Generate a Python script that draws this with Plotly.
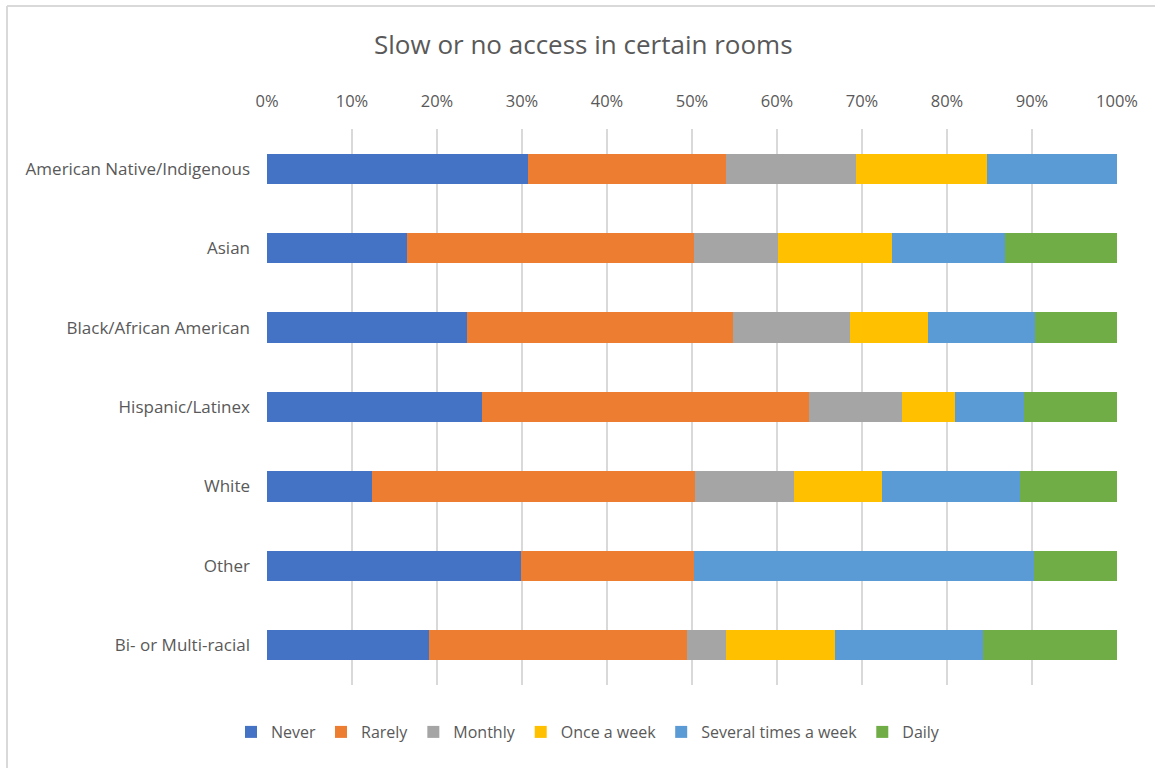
import plotly.graph_objects as go

categories = ["American Native/Indigenous", "Asian", "Black/African American",
              "Hispanic/Latinex", "White", "Other", "Bi- or Multi-racial"]
series_names = ["Never", "Rarely", "Monthly", "Once a week", "Several times a week", "Daily"]
never = [30.7, 16.5, 23.5, 25.3, 12.4, 29.9, 19.1]
rarely = [23.3, 33.7, 31.3, 38.5, 38.0, 20.3, 30.3]
monthly = [15.3, 9.9, 13.8, 10.9, 11.6, 0.0, 4.6]
once_week = [15.4, 13.4, 9.2, 6.2, 10.4, 0.0, 12.8]
several = [15.3, 13.3, 12.6, 8.2, 16.2, 40.0, 17.4]
daily = [0.0, 13.2, 9.6, 10.9, 11.4, 9.8, 15.8]
tick_vals = [0, 10, 20, 30, 40, 50, 60, 70, 80, 90, 100]
tick_text = [f"{v}%" for v in tick_vals]

colors = ["#4472C4", "#ED7D31", "#A5A5A5", "#FFC000", "#5B9BD5", "#70AD47"]
values = [never, rarely, monthly, once_week, several, daily]

FONT = "Open Sans, sans-serif"

fig = go.Figure()
for name, vals, col in zip(series_names, values, colors):
    fig.add_trace(go.Bar(
        y=categories, x=vals, name=name, orientation="h",
        marker=dict(color=col, line=dict(width=0)),
        hovertemplate="%{y}: %{x}%<extra>" + name + "</extra>",
    ))

W, H = 1155, 768
ml, mr, mt, mb = 267, 38, 129, 83
pw, ph = W - ml - mr, H - mt - mb

def px_x(p):
    return (p - ml) / pw

def px_y(p):
    return (H - mb - p) / ph

fig.update_layout(
    width=W, height=H,
    barmode="stack", bargap=0.62,
    paper_bgcolor="white", plot_bgcolor="white",
    margin=dict(l=ml, r=mr, t=mt, b=mb),
    font=dict(family=FONT, color="#595959", size=15),
    title=dict(text="Slow or no access in certain rooms", x=0.505, xanchor="center",
               y=1 - 45 / H, yanchor="middle",
               font=dict(family=FONT, size=26, color="#595959")),
    xaxis=dict(side="top", range=[0, 100], tickvals=tick_vals, ticktext=tick_text,
               showgrid=True, gridcolor="#d9d9d9", gridwidth=1.5, zeroline=False,
               showline=False, ticks="", ticklabelstandoff=18,
               tickfont=dict(size=16.5, color="#595959"), fixedrange=True),
    yaxis=dict(autorange="reversed", showgrid=False, showline=False, ticks="",
               ticklabelstandoff=16,
               tickfont=dict(size=17, color="#595959"), fixedrange=True),
    legend=dict(orientation="h", x=px_x(231), xanchor="left", y=px_y(732), yanchor="middle",
                font=dict(size=16, color="#595959"), traceorder="normal",
                itemwidth=30),
    showlegend=True,
)

# light gray chart border (top and left edges visible)
fig.add_shape(type="line", xref="paper", yref="paper",
              x0=px_x(7), x1=px_x(1160), y0=px_y(6), y1=px_y(6),
              line=dict(color="#d9d9d9", width=2))
fig.add_shape(type="line", xref="paper", yref="paper",
              x0=px_x(7), x1=px_x(7), y0=px_y(6), y1=px_y(775),
              line=dict(color="#d9d9d9", width=2))

fig.write_html("out.html", config={"displayModeBar": False},
               post_script="document.body.style.margin='0';")
